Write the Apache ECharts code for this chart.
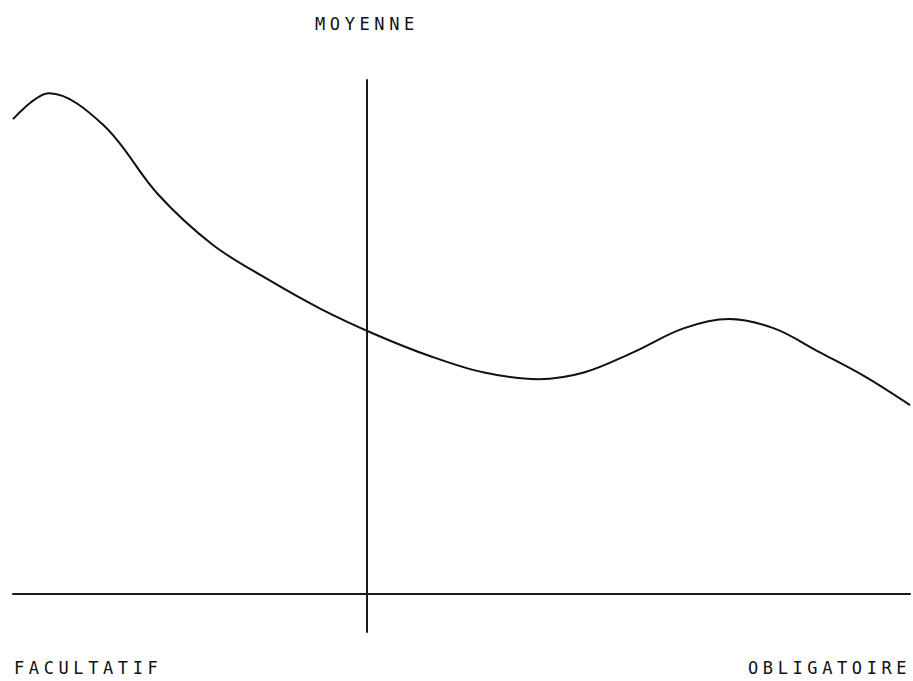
<!DOCTYPE html>
<html>
<head>
<meta charset="utf-8">
<script src="https://cdn.jsdelivr.net/npm/echarts@6/dist/echarts.min.js"></script>
<style>
  html, body { margin: 0; padding: 0; background: #fff; }
  #chart { width: 913px; height: 681px; }
  #chart text { letter-spacing: 4.6px; }
</style>
</head>
<body>
<div id="chart"></div>
<script>
// Position along the scale, from optional (left) to mandatory (right); 0 = average
const positions = [-39, -35, -29, -23, -17, -11, -5, 1, 7, 13,
  19, 24, 29.5, 35, 40, 45, 50, 55, 60];
// Curve level at each position
const levels = [85.9, 90.6, 84.8, 72.3, 63.2, 57.0, 51.5, 46.9, 43.0, 40.0,
  38.8, 40.0, 43.7, 48.0, 49.7, 48.0, 43.7, 39.3, 34.1];
// Labels
const centerLabel = 'MOYENNE';
const leftLabel = 'FACULTATIF';
const rightLabel = 'OBLIGATOIRE';

const chart = echarts.init(document.getElementById('chart'), null, { renderer: 'svg' });

const labelFont = {
  fontFamily: '"DejaVu Sans Mono", "Liberation Mono", monospace',
  fontSize: 17,
  fill: '#111111'
};

chart.setOption({
  animation: false,
  backgroundColor: '#ffffff',
  grid: { left: 13, right: 3, top: 80, bottom: 49 },
  xAxis: {
    type: 'value',
    min: -39,
    max: 60,
    axisLine: { onZero: true, lineStyle: { color: '#1a1a1a', width: 2 } },
    axisTick: { show: false },
    axisLabel: { show: false },
    splitLine: { show: false }
  },
  yAxis: {
    type: 'value',
    min: -7,
    max: 93,
    axisLine: { show: true, onZero: true, lineStyle: { color: '#1a1a1a', width: 2 } },
    axisTick: { show: false },
    axisLabel: { show: false },
    splitLine: { show: false }
  },
  series: [{
    type: 'line',
    data: positions.map((p, i) => [p, levels[i]]),
    smooth: 0.35,
    showSymbol: false,
    lineStyle: { color: '#111111', width: 2 }
  }],
  graphic: [
    { type: 'text', left: 315, top: 15, style: Object.assign({ text: centerLabel }, labelFont) },
    { type: 'text', left: 14, top: 659, style: Object.assign({ text: leftLabel }, labelFont) },
    { type: 'text', left: 748, top: 659, style: Object.assign({ text: rightLabel }, labelFont) }
  ]
});
</script>
</body>
</html>
